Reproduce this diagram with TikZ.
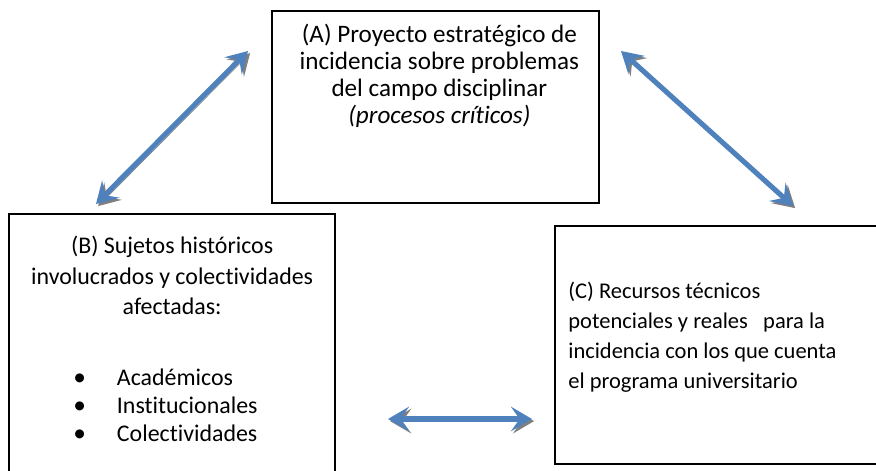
\documentclass[tikz,border=0pt]{standalone}
\usepackage{fontspec}
\setmainfont{Carlito}[Ligatures=CommonOff]
\usetikzlibrary{positioning,arrows.meta}
\definecolor{azul}{HTML}{4F81BD}
\definecolor{sombra}{HTML}{7F7F7F}
\tikzset{
  caja/.style={draw, line width=1pt, inner sep=0pt},
  texto/.style={inner sep=0pt, align=center, font=\fontsize{13.6}{15.3}\selectfont},
  flecha/.style={<->, >={Stealth[length=12pt, width=14pt, inset=5pt]}, draw=azul, line width=2.9pt,
    preaction={draw=sombra, transform canvas={shift={(1.2pt,-1.2pt)}}}},
}
\begin{document}
\begin{tikzpicture}
      \useasboundingbox (0, 0) rectangle (17.52, 9.4);
      \clip (0, 0) rectangle (17.52, 9.4);

      % cajas
      \node[caja, minimum width=6.54cm, minimum height=3.84cm, anchor=north west] (proyecto) at (5.42, 9.2) {};
      \node[caja, minimum width=6.51cm, minimum height=6cm, anchor=north west] (sujetos) at (0.17, 5.14) {};
      \node[caja, minimum width=7cm, minimum height=4.76cm, anchor=north west] (recursos) at (11.08, 4.9) {};

      \node[texto, below=0.28cm of proyecto.north, xshift=0.08cm, font=\fontsize{14.3}{15.3}\selectfont] (textoA) {(A) Proyecto estratégico de\\incidencia sobre problemas\\del campo disciplinar\\\textit{(procesos críticos)}};
      \node[texto, below=0.46cm of sujetos.north, font=\fontsize{13.6}{17.3}\selectfont] (textoB) {(B) Sujetos históricos\\involucrados y colectividades\\afectadas:};
      \node[texto, align=left, anchor=west, font=\fontsize{13.6}{15.9}\selectfont] (actores) at (1.46, 1.25)
        {\begin{tabular}{@{}l@{\hspace{0.62cm}}l@{}}{\Large\textbullet} & Académicos\\ {\Large\textbullet} & Institucionales\\ {\Large\textbullet} & Colectividades\end{tabular}};
      \node[texto, align=left, anchor=north west, font=\fontsize{12.8}{17}\selectfont] (textoC) at (11.36, 3.76)
        {(C) Recursos técnicos\\potenciales y reales\ \ \ para la\\incidencia con los que cuenta\\el programa universitario};

      % flechas
      \coordinate (ab1) at (4.96, 8.38);
      \coordinate (ab2) at (1.92, 5.32);
      \coordinate (ac1) at (12.42, 8.38);
      \coordinate (ac2) at (15.86, 5.28);
      \coordinate (bc1) at (7.76, 1.02);
      \coordinate (bc2) at (10.64, 1.02);
      \draw[flecha] (ab2) -- (ab1);
      \draw[flecha] (ac1) -- (ac2);
      \draw[flecha] (bc1) -- (bc2);
    \end{tikzpicture}
\end{document}
